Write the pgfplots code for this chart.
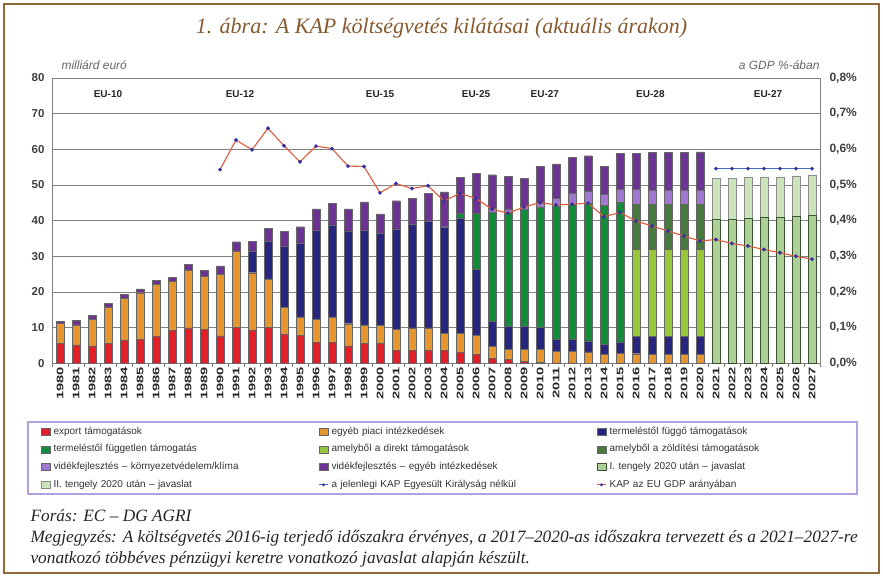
\documentclass[border=0pt]{standalone}
\usepackage{fontspec}
\setmainfont{Liberation Serif}
\setsansfont{Liberation Sans}
\usepackage{pgfplots}
\pgfplotsset{compat=1.18}
\usepackage{pgfplotstable}

\definecolor{cRed}{RGB}{228,30,38}
\definecolor{cOrange}{RGB}{228,150,48}
\definecolor{cBlue}{RGB}{40,38,128}
\definecolor{cGreen}{RGB}{22,138,60}
\definecolor{cLGreen}{RGB}{150,198,60}
\definecolor{cDGreen}{RGB}{72,120,62}
\definecolor{cLPurple}{RGB}{160,120,208}
\definecolor{cPurple}{RGB}{108,50,148}
\definecolor{cI}{RGB}{172,208,150}
\definecolor{cIdraw}{RGB}{60,80,50}
\definecolor{cII}{RGB}{204,228,186}
\definecolor{cLine}{RGB}{222,92,60}
\definecolor{cMark}{RGB}{50,50,160}
\definecolor{cUK}{RGB}{70,110,190}
\definecolor{cFrame}{RGB}{145,105,55}
\definecolor{cTitle}{RGB}{135,90,45}
\definecolor{cLegBox}{RGB}{180,160,220}

\pgfplotstableread{
i red ora blu gre lgr dgr lpu pur ione itwo
0 5.6 5.7 0 0 0 0 0 0.4 0 0
1 5.2 5.6 0 0 0 0 0 1.2 0 0
2 4.9 7.5 0 0 0 0 0 1.0 0 0
3 5.6 10.2 0 0 0 0 0 1.1 0 0
4 6.6 11.6 0 0 0 0 0 1.1 0 0
5 6.8 13.0 0 0 0 0 0 1.1 0 0
6 7.5 14.6 0 0 0 0 0 1.2 0 0
7 9.2 13.7 0 0 0 0 0 1.2 0 0
8 9.9 16.3 0 0 0 0 0 1.6 0 0
9 9.6 14.7 0 0 0 0 0 1.8 0 0
10 7.7 17.2 0 0 0 0 0 2.4 0 0
11 10.1 21.4 0 0 0 0 0 2.6 0 0
12 9.4 16.0 6.0 0 0 0 0 2.8 0 0
13 10.1 13.6 10.5 0 0 0 0 3.7 0 0
14 8.3 7.4 17.2 0 0 0 0 4.1 0 0
15 7.9 5.1 20.7 0 0 0 0 4.6 0 0
16 5.8 6.5 25.0 0 0 0 0 6.0 0 0
17 5.8 7.2 25.8 0 0 0 0 6.1 0 0
18 4.9 6.2 26.0 0 0 0 0 6.2 0 0
19 5.6 5.2 26.4 0 0 0 0 8.1 0 0
20 5.7 5.0 25.7 0 0 0 0 5.5 0 0
21 3.6 6.0 28.1 0 0 0 0 7.9 0 0
22 3.6 6.3 29.0 0 0 0 0 7.3 0 0
23 3.8 6.1 29.9 0 0 0 0 7.9 0 0
24 3.6 4.8 29.9 0 0 0 0 9.8 0 0
25 3.1 5.3 32.4 1.2 0 0 0 10.2 0 0
26 2.5 5.3 18.5 15.9 0 0 0 11.1 0 0
27 1.4 3.4 6.9 30.6 0 0 1.1 9.5 0 0
28 1.1 2.8 6.4 32.0 0 0 1.0 9.1 0 0
29 0.6 3.3 6.4 32.9 0 0 0.8 7.9 0 0
30 0.3 3.6 6.1 33.8 0 0 1.2 10.3 0 0
31 0.1 3.2 3.5 37.4 0 0 2.1 9.6 0 0
32 0.1 3.2 3.4 37.8 0 0 3.1 10.1 0 0
33 0 3.2 3.1 38.5 0 0 3.5 9.9 0 0
34 0 2.5 2.8 39.0 0 0 3.0 8.0 0 0
35 0 2.8 3.2 39.1 0 0 3.7 10.1 0 0
36 0 2.7 4.8 0 24.4 12.7 4.1 10.2 0 0
37 0 2.6 4.9 0 24.5 12.5 4.1 10.6 0 0
38 0 2.6 4.9 0 24.5 12.5 4.1 10.6 0 0
39 0 2.6 4.9 0 24.5 12.5 4.1 10.6 0 0
40 0 2.6 4.9 0 24.5 12.5 4.1 10.7 0 0
41 0 0 0 0 0 0 0 0 40.3 11.5
42 0 0 0 0 0 0 0 0 40.4 11.5
43 0 0 0 0 0 0 0 0 40.7 11.4
44 0 0 0 0 0 0 0 0 40.9 11.4
45 0 0 0 0 0 0 0 0 41.0 11.3
46 0 0 0 0 0 0 0 0 41.2 11.3
47 0 0 0 0 0 0 0 0 41.4 11.3
}\budget

\pgfplotstableread{
i gdp
10 0.543
11 0.626
12 0.599
13 0.659
14 0.610
15 0.565
16 0.609
17 0.602
18 0.553
19 0.552
20 0.478
21 0.504
22 0.490
23 0.498
24 0.455
25 0.477
26 0.462
27 0.432
28 0.421
29 0.438
30 0.451
31 0.444
32 0.446
33 0.449
34 0.411
35 0.423
36 0.399
37 0.385
38 0.371
39 0.357
40 0.343
41 0.347
42 0.336
43 0.329
44 0.319
45 0.310
46 0.300
47 0.292
}\gdptab

\pgfplotstableread{
i uk
41 54.6
42 54.6
43 54.6
44 54.6
45 54.6
46 54.6
47 54.6
}\uktab

\pgfplotsset{
  geom/.style={at={(52pt,212.7pt)}, anchor=south west, scale only axis,
    width=768pt, height=285.3pt, xmin=-0.5, xmax=47.5},
  bstyle/.style={fill=#1, draw=black!60, line width=0.3pt},
}

\begin{document}
\begin{tikzpicture}
\path[use as bounding box] (0pt,0pt) rectangle (883pt,576pt);
\fill[white] (0pt,0pt) rectangle (883pt,576pt);
\draw[cFrame, line width=1.6pt] (4pt,3pt) rectangle (879pt,572pt);

\node[font=\itshape\fontsize{22}{26}\selectfont, text=cTitle] at (441.5pt,548pt)
  {1. ábra: A KAP költségvetés kilátásai (aktuális árakon)};

\node[font=\sffamily\itshape\fontsize{12}{14}\selectfont, text=black!60, anchor=west]
  at (58pt,511pt) {milliárd euró};
\node[font=\sffamily\itshape\fontsize{12}{14}\selectfont, text=black!60, anchor=east]
  at (823pt,511pt) {a GDP \%-ában};

\begin{axis}[geom, ymin=0, ymax=80,
  ybar stacked, bar width=8pt,
  ytick={0,10,...,80}, ytick pos=left,
  xtick={0,...,47}, xtick pos=bottom,
  minor xtick={-0.5,0.5,...,47.5},
  major tick length=0pt, minor tick length=3.5pt, tick align=outside,
  minor tick style={black!55},
  ymajorgrids, major grid style={draw=black!50, line width=0.9pt},
  axis line style={draw=black!50, line width=0.8pt},
  /pgf/number format/assume math mode=true,
  yticklabel style={font=\sffamily\bfseries\fontsize{11.5}{12}\selectfont, text=black!75, xshift=-4pt},
  xticklabel style={font=\sffamily\bfseries\fontsize{9.5}{10}\selectfont, text=black!85, rotate=90, anchor=east},
  xticklabel={\scalebox{1.55}[1]{\pgfmathparse{int(1980+\tick)}\pgfmathresult}},
  legend image code/.code={\draw[#1] (0pt,-3.5pt) rectangle (9pt,3.5pt);},
  legend style={draw=none, fill=none, at={(axis description cs:-0.0143,-0.2215)}, anchor=north west,
    legend columns=3, row sep=8.3pt, inner sep=0pt,
    nodes={font=\sffamily\fontsize{10}{12}\selectfont, text=black!80, text width=262pt, align=left,
      inner xsep=3pt, inner ysep=0pt, text height=7.5pt, text depth=2pt},
    /tikz/every even column/.append style={column sep=0pt}},
  legend cell align=left,
  clip=false,
]
\addplot[bstyle=cRed] table[x=i,y=red]{\budget};
\addlegendentry{export támogatások}
\addplot[bstyle=cOrange] table[x=i,y=ora]{\budget};
\addlegendentry{egyéb piaci intézkedések}
\addplot[bstyle=cBlue] table[x=i,y=blu]{\budget};
\addlegendentry{termeléstől függő támogatások}
\addplot[bstyle=cGreen] table[x=i,y=gre]{\budget};
\addlegendentry{termeléstől független támogatás}
\addplot[bstyle=cLGreen] table[x=i,y=lgr]{\budget};
\addlegendentry{amelyből a direkt támogatások}
\addplot[bstyle=cDGreen] table[x=i,y=dgr]{\budget};
\addlegendentry{amelyből a zöldítési támogatások}
\addplot[bstyle=cLPurple] table[x=i,y=lpu]{\budget};
\addlegendentry{vidékfejlesztés – környezetvédelem/klíma}
\addplot[bstyle=cPurple] table[x=i,y=pur]{\budget};
\addlegendentry{vidékfejlesztés – egyéb intézkedések}
\addplot[fill=cI, draw=cIdraw, line width=0.6pt] table[x=i,y=ione]{\budget};
\addlegendentry{I. tengely 2020 után – javaslat}
\addplot[fill=cII, draw=black!45, line width=0.3pt] table[x=i,y=itwo]{\budget};
\addlegendentry{II. tengely 2020 után – javaslat}
\addlegendimage{legend image code/.code={
  \draw[cUK, line width=1pt] (0pt,0pt) -- (9pt,0pt);
  \fill[cMark] (4.5pt,0pt) circle (1.3pt);}}
\addlegendentry{a jelenlegi KAP Egyesült Királyság nélkül}
\addlegendimage{legend image code/.code={
  \draw[cLine, line width=1.1pt] (0pt,0pt) -- (9pt,0pt);
  \fill[cMark] (4.5pt,0pt) circle (1.3pt);}}
\addlegendentry{KAP az EU GDP arányában}

\foreach \lab/\xx in {EU-10/3, EU-12/11.25, EU-15/20, EU-25/26, EU-27/30.3, EU-28/36.9, EU-27/44.25}{
  \edef\tmp{\noexpand\node[font=\noexpand\sffamily\noexpand\bfseries\noexpand\fontsize{10}{12}\noexpand\selectfont, text=black!85] at (axis cs:\xx,75.4) {\lab};}
  \tmp
}
\end{axis}

\begin{axis}[geom, ymin=0, ymax=80, hide axis]
\addplot[cUK, line width=1pt, mark=*, mark size=1.3pt, mark options={fill=cMark, draw=cMark}]
  table[x=i,y=uk]{\uktab};
\end{axis}

\begin{axis}[geom, ymin=0, ymax=0.8,
  axis x line=none, axis y line*=right,
  axis line style={draw=none},
  ytick={0,0.1,0.2,0.3,0.4,0.5,0.6,0.7,0.8},
  major tick length=0pt,
  /pgf/number format/assume math mode=true,
  yticklabel={\pgfmathprintnumber[fixed,fixed zerofill,precision=1,use comma]{\tick}\%},
  yticklabel style={font=\sffamily\bfseries\fontsize{12}{13}\selectfont, text=black!75, xshift=6pt},
]
\addplot[cLine, line width=1.1pt, mark=*, mark size=1.3pt, mark options={fill=cMark, draw=cMark}]
  table[x=i,y=gdp]{\gdptab};
\end{axis}

\draw[cLegBox, line width=1.2pt] (28pt,82pt) rectangle (857pt,154pt);

\node[font=\itshape\fontsize{17.3}{20}\selectfont, text=black!85, anchor=west] at (27pt,60pt)
  {Forás: EC – DG AGRI};
\node[font=\itshape\fontsize{17.3}{20}\selectfont, text=black!85, anchor=west] at (27pt,38pt)
  {Megjegyzés: A költségvetés 2016-ig terjedő időszakra érvényes, a 2017–2020-as időszakra tervezett és a 2021–2027-re};
\node[font=\itshape\fontsize{17.3}{20}\selectfont, text=black!85, anchor=west] at (27pt,17pt)
  {vonatkozó többéves pénzügyi keretre vonatkozó javaslat alapján készült.};
\end{tikzpicture}
\end{document}
